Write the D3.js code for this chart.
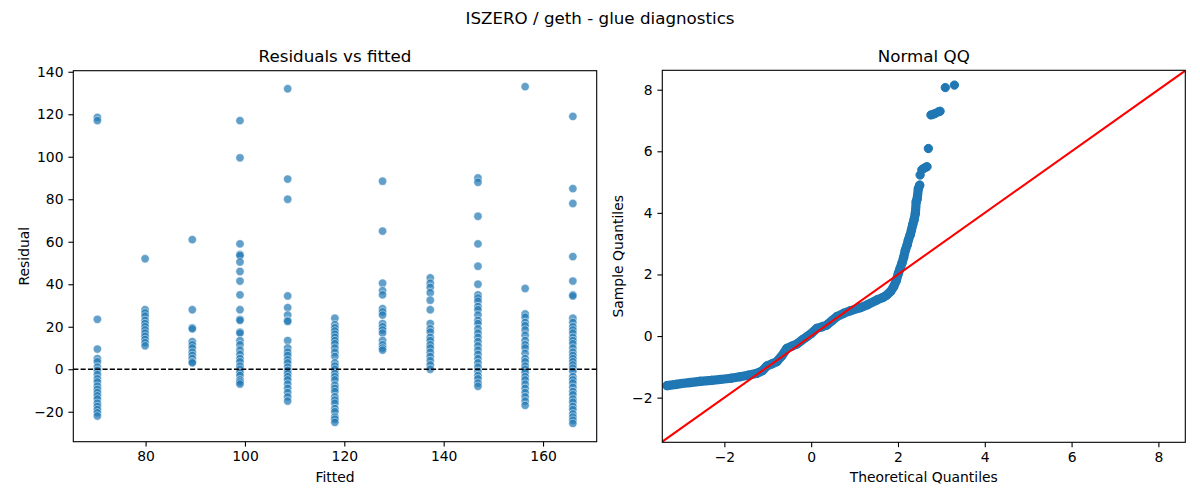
<!DOCTYPE html>
<html>
<head>
<meta charset="utf-8">
<script src="https://cdn.jsdelivr.net/npm/d3@7/dist/d3.min.js"></script>
<style>
  html, body { margin: 0; padding: 0; background: #fff; }
  svg { display: block; font-family: "DejaVu Sans", sans-serif; }
</style>
</head>
<body>
<svg id="chart" width="1200" height="500"></svg>
<script>
// ---------------- DATA ----------------
const suptitle = "ISZERO / geth - glue diagnostics";
const leftTitle = "Residuals vs fitted";
const rightTitle = "Normal QQ";

// Fitted-value levels (x positions of the residual columns)
const fittedLevels = [70.3, 79.9, 89.4, 99.0, 108.6, 118.1, 127.7, 137.3, 146.9, 156.4, 166.0];

// Residuals read at each fitted level (same order as fittedLevels)
const residualsByLevel = [
  [118.5, 117, 23.5, 9.5, 5, 3.5, 1, -0.5, -2.5, -4.5, -6, -8, -9.5, -11, -12.5, -14, -16, -17.5, -19, -20.5, -22],
  [52, 28, 26.5, 25, 23, 21.5, 20, 18.5, 17, 15.5, 14, 12.5, 11],
  [61, 28, 19.5, 19, 13, 11.5, 10, 8, 6.5, 5, 3.5, 3],
  [117, 99.5, 59, 54, 53.5, 50.5, 46, 41.5, 35, 28, 23.5, 23, 17.5, 17, 13.5, 11.5, 9, 7, 5, 3.5, 1.5, 0, -1.5, -3, -5, -6, -7],
  [132, 89.5, 80, 34.5, 29, 25.5, 23, 22.5, 13.5, 10, 8, 6.5, 4.5, 3, 1, -0.5, -2, -3.5, -5, -7, -9, -11, -13, -15],
  [24, 21, 19.5, 18, 16.5, 15, 13.5, 12, 10, 8, 6, 3, 1.5, 0, -2, -3.5, -5, -7.5, -9, -10.5, -13, -14.5, -16, -18.5, -20, -22.5, -23.5, -25],
  [88.5, 65, 40.5, 37, 35, 28.5, 27, 25.5, 21.5, 20, 18.5, 17, 13.5, 11.5, 10, 9],
  [43, 40.5, 38.5, 36, 32.5, 28, 21.5, 19, 17.5, 15, 13.5, 11.5, 10, 8, 6, 4, 2, 0],
  [90, 88, 72, 59, 48.5, 40, 35, 33.5, 32, 29.5, 28, 25.5, 23, 21.5, 19, 17, 15, 13, 11, 9, 7, 5, 3, 1, -1, -3, -4.5, -6.5, -8],
  [133, 38, 26, 24.5, 22, 20.5, 18.5, 16, 13.5, 11.5, 10, 7.5, 5, 3.5, 1.5, 0, -1.5, -3.5, -5, -7, -9, -11, -13, -15, -17],
  [119, 85, 78, 53, 41.5, 35, 34.5, 24, 22, 20, 18.5, 17, 15, 13.5, 12, 10, 8, 6.5, 5, 3.5, 2, 0.5, -1, -3.5, -5, -6.5, -8.5, -10.5, -12, -14, -15.5, -17.5, -19, -21, -22.5, -24, -25.5]
];

// QQ plot points (theoretical, sample)
const qqTheoretical = [-3.32, -3.11, -2.98, -2.80, -2.56, -2.30, -2.10, -1.85, -1.64, -1.45, -1.25, -1.12, -1.02, -0.90, -0.79, -0.68, -0.56, -0.45, -0.33, -0.20, -0.10, 0.00, 0.13, 0.25, 0.36, 0.48, 0.59, 0.75, 0.90, 1.13, 1.30, 1.51, 1.65, 1.74, 1.83, 1.90, 1.96, 2.01, 2.05, 2.09, 2.13, 2.17, 2.21, 2.24, 2.28, 2.31, 2.34, 2.37, 2.40, 2.42, 2.44, 2.47, 2.50, 2.51, 2.55, 2.59, 2.64, 2.67, 2.70, 2.76, 2.81, 2.86, 2.93, 2.97, 3.09, 3.30];
const qqSample = [-1.61, -1.57, -1.54, -1.51, -1.47, -1.44, -1.41, -1.37, -1.32, -1.27, -1.21, -1.12, -0.97, -0.90, -0.83, -0.65, -0.40, -0.33, -0.26, -0.12, -0.02, 0.08, 0.25, 0.30, 0.36, 0.50, 0.63, 0.74, 0.82, 0.92, 1.02, 1.17, 1.25, 1.33, 1.45, 1.60, 1.80, 2.04, 2.20, 2.36, 2.55, 2.79, 2.95, 3.12, 3.28, 3.44, 3.62, 3.77, 3.98, 4.36, 4.44, 4.79, 4.90, 5.23, 5.40, 5.44, 5.48, 5.50, 6.09, 7.18, 7.20, 7.23, 7.28, 7.30, 8.07, 8.15];
const qqDenseUpTo = 52; // index of last point in the continuous dense band

const leftXTicks = [80, 100, 120, 140, 160];
const leftYTicks = [-20, 0, 20, 40, 60, 80, 100, 120, 140];
const rightTicks = [-2, 0, 2, 4, 6, 8];

// ---------------- DRAW ----------------
const svg = d3.select("#chart");
const C0 = "#1f77b4";
const fmt = d3.format("d");

const L = { x0: 73.3, x1: 596.7, y0: 70.7, y1: 441.7 };
const R = { x0: 662.3, x1: 1185.3, y0: 70.3, y1: 442.3 };

const xL = d3.scaleLinear().domain([65.45, 170.8]).range([L.x0, L.x1]);
const yL = d3.scaleLinear().domain([-34.1, 140.5]).range([L.y1, L.y0]);
const xR = d3.scaleLinear().domain([-3.43, 8.62]).range([R.x0, R.x1]);
const yR = d3.scaleLinear().domain([-3.45, 8.63]).range([R.y1, R.y0]);

svg.append("text").attr("x", 600).attr("y", 24).attr("text-anchor", "middle")
  .attr("font-size", 16.7).attr("fill", "#000").text(suptitle);

function axes(box, xs, ys, xt, yt) {
  const g = svg.append("g");
  g.append("g").attr("transform", `translate(0,${box.y1})`)
    .call(d3.axisBottom(xs).tickValues(xt).tickFormat(fmt).tickSize(4.9).tickPadding(4.9).tickSizeOuter(0))
    .call(s => s.select(".domain").remove())
    .call(s => s.selectAll("line").attr("stroke", "#000").attr("stroke-width", 1.1))
    .call(s => s.selectAll("text").attr("font-size", 13.9).attr("fill", "#000").attr("font-family", "DejaVu Sans"));
  g.append("g").attr("transform", `translate(${box.x0},0)`)
    .call(d3.axisLeft(ys).tickValues(yt).tickFormat(fmt).tickSize(4.9).tickPadding(4.9).tickSizeOuter(0))
    .call(s => s.select(".domain").remove())
    .call(s => s.selectAll("line").attr("stroke", "#000").attr("stroke-width", 1.1))
    .call(s => s.selectAll("text").attr("font-size", 13.9).attr("fill", "#000").attr("font-family", "DejaVu Sans"));
  return g;
}
function frame(box) {
  svg.append("rect").attr("x", box.x0).attr("y", box.y0)
    .attr("width", box.x1 - box.x0).attr("height", box.y1 - box.y0)
    .attr("fill", "none").attr("stroke", "#000").attr("stroke-width", 1.1);
}
function clip(id, box) {
  svg.append("clipPath").attr("id", id).append("rect")
    .attr("x", box.x0).attr("y", box.y0).attr("width", box.x1 - box.x0).attr("height", box.y1 - box.y0);
}
clip("clipL", L); clip("clipR", R);

// ---- Left: residuals vs fitted ----
const leftPts = [];
fittedLevels.forEach((f, i) => residualsByLevel[i].forEach(r => leftPts.push({ f, r })));

const gL = svg.append("g").attr("clip-path", "url(#clipL)");
gL.selectAll("circle").data(leftPts).join("circle")
  .attr("cx", d => xL(d.f)).attr("cy", d => yL(d.r)).attr("r", 4.17)
  .attr("fill", C0).attr("fill-opacity", 0.7)
  .attr("stroke", "#fff").attr("stroke-opacity", 0.7).attr("stroke-width", 0.7);
gL.append("line").attr("x1", L.x0).attr("x2", L.x1).attr("y1", yL(0)).attr("y2", yL(0))
  .attr("stroke", "#000").attr("stroke-width", 1.39).attr("stroke-dasharray", "5.1,2.2");

axes(L, xL, yL, leftXTicks, leftYTicks);
frame(L);
svg.append("text").attr("x", (L.x0 + L.x1) / 2).attr("y", 62.3).attr("text-anchor", "middle")
  .attr("font-size", 16.7).text(leftTitle);
svg.append("text").attr("x", (L.x0 + L.x1) / 2).attr("y", 481.5).attr("text-anchor", "middle")
  .attr("font-size", 13.9).text("Fitted");
svg.append("text").attr("transform", `translate(28.5,${(L.y0 + L.y1) / 2}) rotate(-90)`)
  .attr("text-anchor", "middle").attr("font-size", 13.9).text("Residual");

// ---- Right: Normal QQ ----
const qqPts = qqTheoretical.map((t, i) => ({ t, s: qqSample[i] }));
const gR = svg.append("g").attr("clip-path", "url(#clipR)");
gR.append("path").datum(qqPts.slice(0, qqDenseUpTo + 1))
  .attr("d", d3.line().x(d => xR(d.t)).y(d => yR(d.s)))
  .attr("fill", "none").attr("stroke", C0).attr("stroke-width", 9.2)
  .attr("stroke-linecap", "round").attr("stroke-linejoin", "round");
gR.selectAll("circle").data(qqPts).join("circle")
  .attr("cx", d => xR(d.t)).attr("cy", d => yR(d.s)).attr("r", 4.17)
  .attr("fill", C0).attr("stroke", C0).attr("stroke-width", 1.0);
const lineLims = [-3.45, 8.63];
gR.append("line")
  .attr("x1", xR(lineLims[0])).attr("y1", yR(lineLims[0]))
  .attr("x2", xR(lineLims[1])).attr("y2", yR(lineLims[1]))
  .attr("stroke", "#ff0000").attr("stroke-width", 2.08);

axes(R, xR, yR, rightTicks, rightTicks);
frame(R);
svg.append("text").attr("x", (R.x0 + R.x1) / 2).attr("y", 62.3).attr("text-anchor", "middle")
  .attr("font-size", 16.7).text(rightTitle);
svg.append("text").attr("x", (R.x0 + R.x1) / 2).attr("y", 481.5).attr("text-anchor", "middle")
  .attr("font-size", 13.9).text("Theoretical Quantiles");
svg.append("text").attr("transform", `translate(622.5,${(R.y0 + R.y1) / 2}) rotate(-90)`)
  .attr("text-anchor", "middle").attr("font-size", 13.9).text("Sample Quantiles");
</script>
</body>
</html>
